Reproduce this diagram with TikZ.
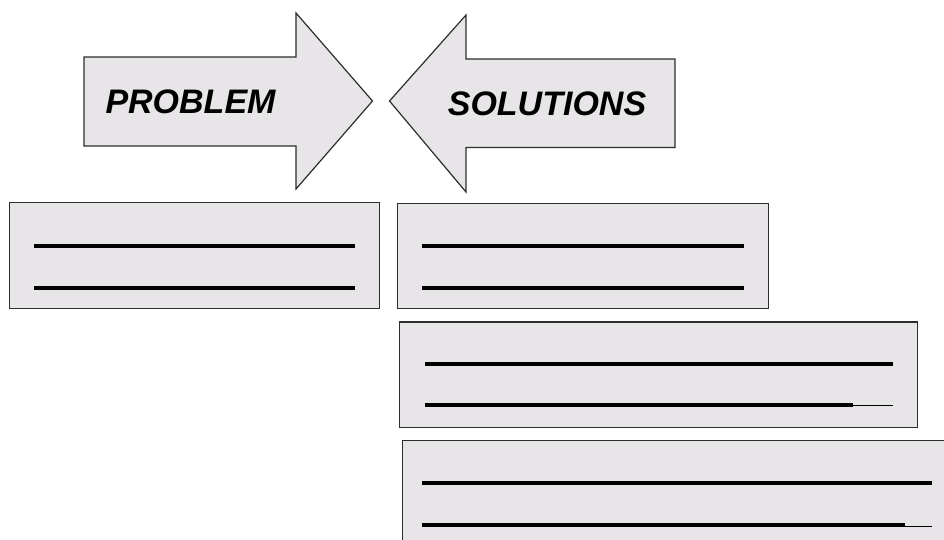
\documentclass[tikz,border=0pt]{standalone}
\usepackage{fontspec}
\setmainfont{Liberation Sans}
\usepackage{tikz}
\usetikzlibrary{positioning,calc}

\definecolor{cardgray}{RGB}{231,229,231}
\definecolor{edgegray}{RGB}{45,45,45}

\begin{document}
\begin{tikzpicture}[
    x=1pt, y=-1pt,
    bigarrow/.style={draw=edgegray, line width=1.2pt, fill=cardgray, line join=miter},
    card/.style={rectangle, draw=edgegray, line width=1.4pt, fill=cardgray, anchor=north west, inner sep=0pt},
    title/.style={font=\fontsize{34}{40}\selectfont\bfseries\itshape, anchor=base, inner sep=0pt},
    blank/.style={line width=4pt, black},
    tail/.style={line width=1.4pt, black}
]
\useasboundingbox (0,0) rectangle (944,540);
\clip (0,0) rectangle (944,540);

% Problem arrow (pointing right)
\draw[bigarrow] (84,57) -- (296,57) -- (296,13) -- (372.5,101) -- (296,189) -- (296,146) -- (84,146) -- cycle;
\node[title] (prob) at (190.5,114) {PROBLEM};

% Solutions arrow (pointing left)
\draw[bigarrow] (675,59) -- (466,59) -- (466,15) -- (389.5,101) -- (466,192) -- (466,147.5) -- (675,147.5) -- cycle;
\node[title] (sol) at (547,115.5) {SOLUTIONS};

% Problem box
\node[card, minimum width=370pt, minimum height=105.5pt] (pbox) at (9,202) {};
\draw[blank] ($(pbox.north west)+(24.5,43.7)$) -- ++(321.8,0);
\draw[blank] ($(pbox.north west)+(24.5,85.7)$) -- ++(321.8,0);

% Solution boxes
\node[card, minimum width=370.5pt, minimum height=105pt] (sbox1) at (397,202.5) {};
\draw[blank] ($(sbox1.north west)+(25.3,43.2)$) -- ++(321.4,0);
\draw[blank] ($(sbox1.north west)+(25.3,85.5)$) -- ++(321.4,0);

\node[card, minimum width=518pt, minimum height=105.2pt] (sbox2) at (399,321.3) {};
\draw[blank] ($(sbox2.north west)+(25.5,43)$) -- ++(468.5,0);
\draw[blank] ($(sbox2.north west)+(25.5,83.4)$) -- ++(428.5,0) coordinate (s2end);
\draw[tail] ($(s2end)+(0,1)$) -- ++(40,0);

\node[card, minimum width=560pt, minimum height=130pt] (sbox3) at (402,439.5) {};
\draw[blank] ($(sbox3.north west)+(20,43.2)$) -- ++(509.7,0);
\draw[blank] ($(sbox3.north west)+(20,85.8)$) -- ++(483,0) coordinate (s3end);
\draw[tail] ($(s3end)+(0,1)$) -- ++(26.7,0);

\end{tikzpicture}
\end{document}
